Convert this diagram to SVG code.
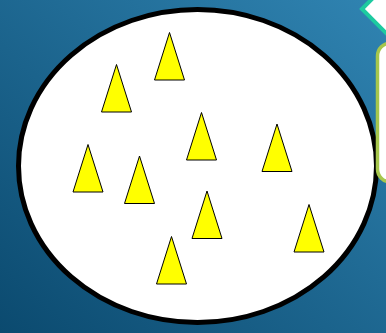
<svg xmlns="http://www.w3.org/2000/svg" width="386" height="333" viewBox="0 0 386 333">
<defs>
<linearGradient id="bg" x1="0" y1="1" x2="1" y2="0">
<stop offset="0" stop-color="#0b4a6f"/>
<stop offset="1" stop-color="#3084b2"/>
</linearGradient>
<polygon id="tri" points="15,0 30,47.5 0,47.5"/>
</defs>
<style>
.t{fill:#ffff00;stroke:#000;stroke-width:1;stroke-linejoin:miter}
</style>
<rect width="386" height="333" fill="url(#bg)"/>
<g id="ellipse">
<ellipse cx="197.5" cy="166" rx="179" ry="156.5" fill="#fff" stroke="#000" stroke-width="5"/>
</g>
<g id="diamond">
<polygon points="362,9 391,-20 420,9 391,38" fill="#fff" stroke="#1dcaa0" stroke-width="4"/>
</g>
<g id="box">
<rect x="377.5" y="43" width="40" height="139" rx="13" fill="#fff" stroke="#a6c64c" stroke-width="3.5"/>
</g>
<g id="triangles">
<use href="#tri" class="t" x="154.5" y="32.5"/>
<use href="#tri" class="t" x="101.5" y="64.5"/>
<use href="#tri" class="t" x="186.5" y="112.5"/>
<use href="#tri" class="t" x="262" y="124"/>
<use href="#tri" class="t" x="73" y="144.5"/>
<use href="#tri" class="t" x="124.5" y="156"/>
<use href="#tri" class="t" x="192" y="191"/>
<use href="#tri" class="t" x="294" y="204.5"/>
<use href="#tri" class="t" x="156.5" y="236.5"/>
</g>
</svg>
